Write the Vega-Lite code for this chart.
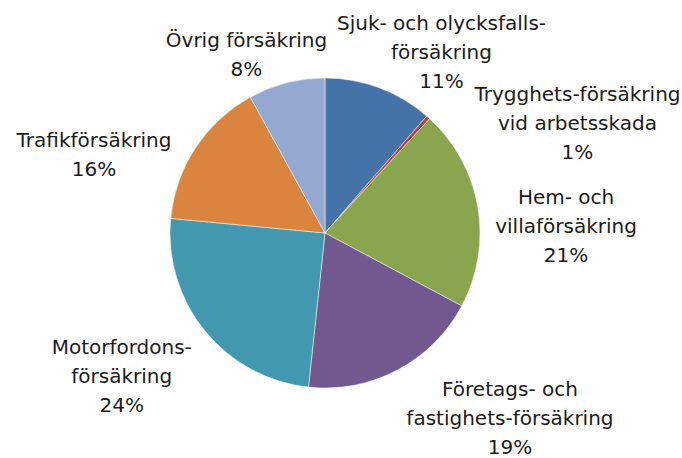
{
  "$schema": "https://vega.github.io/schema/vega-lite/v6.json",
  "width": 650,
  "height": 450,
  "autosize": {"type": "none"},
  "padding": {"left": 0, "top": 8, "right": 32, "bottom": 0},
  "background": "white",
  "config": {"view": {"stroke": null}},
  "data": {
    "values": [
      {"idx": 1, "key": "sjuk", "value": 11.4, "label": ["Sjuk- och olycksfalls-", "försäkring", "11%"]},
      {"idx": 2, "key": "tryg", "value": 0.4, "label": ["Trygghets-försäkring", "vid arbetsskada", "1%"]},
      {"idx": 3, "key": "hem", "value": 21.0, "label": ["Hem- och", "villaförsäkring", "21%"]},
      {"idx": 4, "key": "foretag", "value": 18.9, "label": ["Företags- och", "fastighets-försäkring", "19%"]},
      {"idx": 5, "key": "motor", "value": 24.8, "label": ["Motorfordons-", "försäkring", "24%"]},
      {"idx": 6, "key": "trafik", "value": 15.5, "label": ["Trafikförsäkring", "16%"]},
      {"idx": 7, "key": "ovrig", "value": 8.0, "label": ["Övrig försäkring", "8%"]}
    ]
  },
  "encoding": {
    "theta": {"field": "value", "type": "quantitative", "stack": true},
    "order": {"field": "idx", "type": "quantitative"}
  },
  "layer": [
    {
      "mark": {"type": "arc", "outerRadius": 155, "stroke": "#ffffff", "strokeWidth": 0.5},
      "encoding": {
        "color": {
          "field": "key",
          "type": "nominal",
          "legend": null,
          "scale": {
            "domain": ["sjuk", "tryg", "hem", "foretag", "motor", "trafik", "ovrig"],
            "range": ["#4572A7", "#AA4643", "#89A54E", "#71588F", "#4198AF", "#DB843D", "#93A9CF"]
          }
        }
      }
    },
    {
      "mark": {"type": "text", "radius": 214, "dx": 41.5, "dy": -8.6, "font": "DejaVu Sans", "fontSize": 20, "lineHeight": 29, "align": "center", "baseline": "middle", "color": "#1a1a1a"},
      "encoding": {"text": {"condition": {"test": "datum.key === 'sjuk'", "field": "label"}, "value": ""}}
    },
    {
      "mark": {"type": "text", "radius": 275, "dx": 69.3, "dy": 67.6, "font": "DejaVu Sans", "fontSize": 20, "lineHeight": 29, "align": "center", "baseline": "middle", "color": "#1a1a1a"},
      "encoding": {"text": {"condition": {"test": "datum.key === 'tryg'", "field": "label"}, "value": ""}}
    },
    {
      "mark": {"type": "text", "radius": 241, "dx": 3.5, "dy": 5.7, "font": "DejaVu Sans", "fontSize": 20, "lineHeight": 29, "align": "center", "baseline": "middle", "color": "#1a1a1a"},
      "encoding": {"text": {"condition": {"test": "datum.key === 'hem'", "field": "label"}, "value": ""}}
    },
    {
      "mark": {"type": "text", "radius": 264.5, "dx": 61.2, "dy": -76.5, "font": "DejaVu Sans", "fontSize": 20, "lineHeight": 29, "align": "center", "baseline": "middle", "color": "#1a1a1a"},
      "encoding": {"text": {"condition": {"test": "datum.key === 'foretag'", "field": "label"}, "value": ""}}
    },
    {
      "mark": {"type": "text", "radius": 249, "dx": -10.4, "dy": -42.5, "font": "DejaVu Sans", "fontSize": 20, "lineHeight": 29, "align": "center", "baseline": "middle", "color": "#1a1a1a"},
      "encoding": {"text": {"condition": {"test": "datum.key === 'motor'", "field": "label"}, "value": ""}}
    },
    {
      "mark": {"type": "text", "radius": 244, "dx": -27.1, "dy": 41.5, "font": "DejaVu Sans", "fontSize": 20, "lineHeight": 29, "align": "center", "baseline": "middle", "color": "#1a1a1a"},
      "encoding": {"text": {"condition": {"test": "datum.key === 'trafik'", "field": "label"}, "value": ""}}
    },
    {
      "mark": {"type": "text", "radius": 194, "dx": -30.3, "dy": -4.2, "font": "DejaVu Sans", "fontSize": 20, "lineHeight": 29, "align": "center", "baseline": "middle", "color": "#1a1a1a"},
      "encoding": {"text": {"condition": {"test": "datum.key === 'ovrig'", "field": "label"}, "value": ""}}
    }
  ]
}
